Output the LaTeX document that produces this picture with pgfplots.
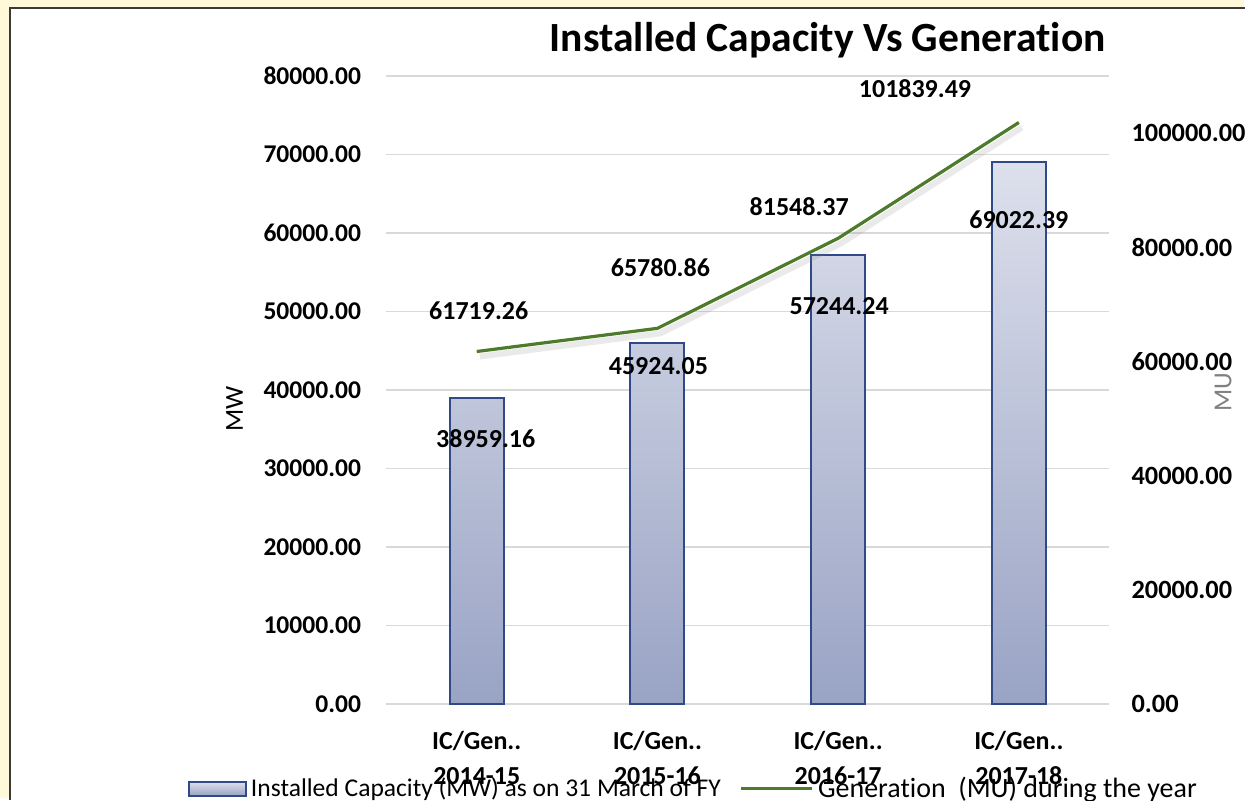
\documentclass[border=0pt]{standalone}
\usepackage{pgfplots}
\pgfplotsset{compat=1.18}
\usepackage{pgfplotstable}
\usepackage{fontspec}
\setmainfont{Carlito}[Ligatures=NoCommon]
\definecolor{bgyellow}{HTML}{FFF9D9}
\definecolor{framegray}{HTML}{3A3A3A}
\definecolor{gridgray}{HTML}{D9D9D9}
\definecolor{barTop}{HTML}{DDE0EC}
\definecolor{barBot}{HTML}{99A3C4}
\definecolor{barEdge}{HTML}{2F4A86}
\definecolor{lineGreen}{HTML}{4E7A2B}

\pgfplotstableread{
x y dx dy lab
0 38959.16 4.5 -20.5 38959.16
1 45924.05 0.5 -11.5 45924.05
2 57244.24 0.5 -26 57244.24
3 69022.39 0 -29 69022.39
}\capdata
\pgfplotstableread{
x y dx dy lab
0 61719.26 1 20.5 61719.26
1 65780.86 1.5 30.5 65780.86
2 81548.37 -19.5 16 81548.37
3 101839.49 -52 17 101839.49
}\gendata

\begin{document}
\begin{tikzpicture}
% background
\fill[bgyellow] (-193.5pt,-47pt) rectangle (429.5pt,352.5pt);
\fill[white] (-188.5pt,-48pt) rectangle (430pt,348.5pt);
\draw[framegray, line width=1pt] (-188.5pt,-48pt) -- (-188.5pt,348.5pt) -- (430pt,348.5pt);
\path[use as bounding box] (-193.5pt,-47pt) rectangle (429.5pt,352.5pt);

\begin{axis}[
  at={(0pt,0pt)}, anchor=south west,
  scale only axis, width=362pt, height=314.5pt,
  xmin=-0.5, xmax=3.5, ymin=0, ymax=80000,
  ytick={0,10000,...,80000},
  xtick={0,1,2,3},
  xticklabels={{IC/Gen..\\2014-15},{IC/Gen..\\2015-16},{IC/Gen..\\2016-17},{IC/Gen..\\2017-18}},
  axis line style={draw=none},
  major tick length=0pt,
  ymajorgrids, grid style={gridgray, line width=0.8pt},
  scaled y ticks=false,
  yticklabel style={font=\bfseries\fontsize{12.8}{15}\selectfont, inner sep=0pt, anchor=east, xshift=-12.5pt,
    /pgf/number format/.cd, fixed, fixed zerofill, precision=2, 1000 sep={}, assume math mode=true},
  xticklabel style={font=\bfseries\fontsize{13}{17.5}\selectfont, align=center, inner sep=0pt, anchor=north, yshift=-13.5pt},
  ylabel={MW},
  every axis y label/.style={at={(axis description cs:-0.21,0.469)}, rotate=90, anchor=center, font=\fontsize{13}{15}\selectfont},
  title={Installed Capacity Vs Generation},
  title style={at={(axis description cs:0.6105,1.0604)}, anchor=center, yshift=-7pt, font=\bfseries\fontsize{20.8}{24}\selectfont},
  clip=false,
]
\addplot[ybar, bar width=27pt, draw=barEdge, line width=1pt, top color=barTop, bottom color=barBot,
  point meta=explicit symbolic,
  visualization depends on={\thisrow{dx}\as\dx},
  visualization depends on={\thisrow{dy}\as\dy},
  nodes near coords,
  nodes near coords style={font=\bfseries\fontsize{13}{15}\selectfont, text=black, anchor=center, xshift=\dx*1pt, yshift=\dy*1pt, inner sep=0pt},
  forget plot]
  table[x=x, y=y, meta=lab] {\capdata};
\end{axis}

\begin{axis}[
  at={(0pt,0pt)}, anchor=south west,
  scale only axis, width=362pt, height=314.5pt,
  xmin=-0.5, xmax=3.5, ymin=0, ymax=110000,
  ytick={0,20000,...,100000},
  axis y line*=right, axis x line=none,
  axis line style={draw=none},
  major tick length=0pt,
  scaled y ticks=false,
  yticklabel style={font=\bfseries\fontsize{13.2}{15}\selectfont, inner sep=0pt, anchor=west, xshift=11pt,
    /pgf/number format/.cd, fixed, fixed zerofill, precision=2, 1000 sep={}, assume math mode=true},
  ylabel={MU},
  every axis y label/.style={at={(axis description cs:1.1575,0.496)}, rotate=90, anchor=center, text=gray, font=\fontsize{13}{15}\selectfont},
  clip=false,
  legend style={at={(axis description cs:-0.2749,-0.1351)}, anchor=west, draw=none, fill=none, inner sep=0pt,
    font=\fontsize{13}{15}\selectfont, /tikz/every even column/.append style={column sep=7pt}},
  legend columns=2, legend cell align=left,
]
\addplot[gray, opacity=0.16, line width=3pt, xshift=1.5pt, yshift=-2.5pt, forget plot] table[x=x, y=y] {\gendata};
\addplot[lineGreen, line width=1.6pt,
  point meta=explicit symbolic,
  visualization depends on={\thisrow{dx}\as\dx},
  visualization depends on={\thisrow{dy}\as\dy},
  nodes near coords,
  nodes near coords style={font=\bfseries\fontsize{13}{15}\selectfont, text=black, anchor=center, xshift=\dx*1pt, yshift=\dy*1pt, inner sep=0pt},
  forget plot]
  table[x=x, y=y, meta=lab] {\gendata};
\addlegendimage{legend image code/.code={\draw[draw=barEdge, line width=1pt, top color=barTop, bottom color=barBot] (0pt,-3.5pt) rectangle (28.5pt,3.5pt);}}
\addlegendentry{\fontsize{12.8}{15}\selectfont Installed Capacity (MW) as on 31 March of FY}
\addlegendimage{legend image code/.code={\draw[lineGreen, line width=1.6pt] (0pt,0pt) -- (36pt,0pt);}}
\addlegendentry{\fontsize{14}{15}\selectfont Generation\ \ (MU) during the year}
\end{axis}
\end{tikzpicture}
\end{document}
